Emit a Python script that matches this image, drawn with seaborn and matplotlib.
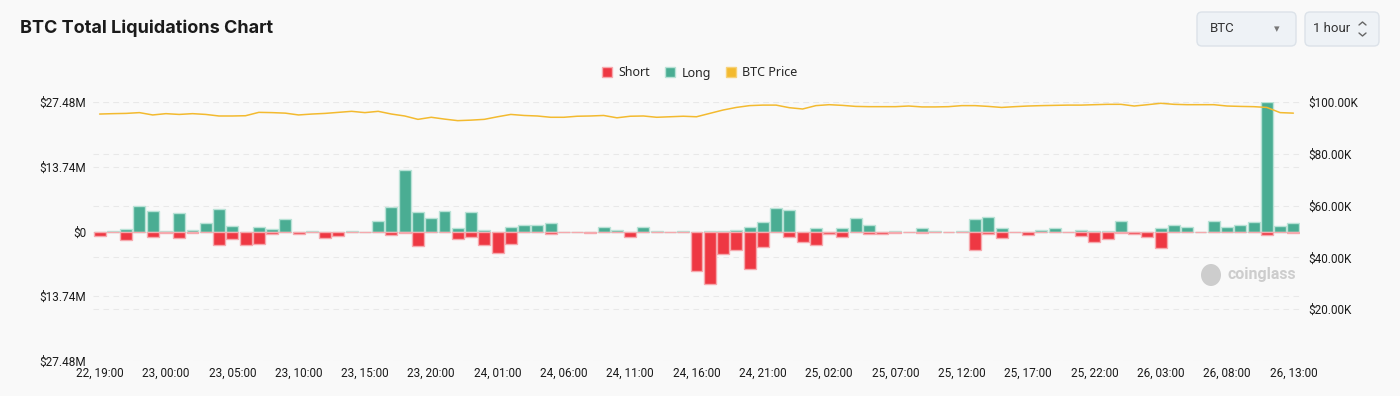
import numpy as np
import pandas as pd
import matplotlib
matplotlib.use('Agg')
import matplotlib.pyplot as plt
import matplotlib.transforms as mtransforms
from matplotlib.patches import Patch, FancyBboxPatch, Ellipse
from matplotlib.lines import Line2D
import seaborn as sns

# hourly liquidations, $M (short shown below zero)
hours = pd.date_range('2024-11-22 19:00', periods=91, freq='h').strftime('%d, %H:%M').tolist()
long_m = [0, 0.1, 0.5, 5.47, 4.4, 0.15, 3.9, 0.3, 1.78, 4.83,
          1.2, 0, 0.85, 0.43, 2.7, 0, 0.1, 0, 0, 0.2,
          0, 2.2, 5.1, 13.14, 4.05, 2.84, 4.33, 0.78, 4.12, 0.28,
          0, 1.0, 1.42, 1.28, 1.78, 0, 0, 0, 1.0, 0.35,
          0, 0.85, 0.15, 0, 0.1, 0, 0.1, 0.15, 0.3, 1.0,
          2.0, 4.97, 4.47, 0, 0.64, 0, 0.7, 2.9, 1.42, 0,
          0.1, 0, 0.7, 0.15, 0, 0.1, 2.56, 3.05, 0.78, 0,
          0, 0.35, 0.64, 0, 0.35, 0.15, 0.15, 2.27, 0, 0,
          0.78, 1.35, 1.0, 0, 2.2, 0.85, 1.42, 1.92, 27.48, 1.14,
          1.78]
short_m = [0.92, 0, 1.7, 0, 1.14, 0.35, 1.42, 0.28, 0, 2.84,
           1.5, 2.84, 2.7, 0.43, 0, 0.57, 0.2, 1.28, 0.85, 0.2,
           0.15, 0, 0.7, 0.28, 3.0, 0, 0, 1.56, 1.07, 2.9,
           4.47, 2.7, 0, 0.2, 0.43, 0.2, 0.1, 0.35, 0, 0.2,
           1.07, 0, 0, 0.2, 0, 8.3, 11.15, 4.76, 3.9, 7.9,
           3.27, 0, 1.2, 2.27, 2.9, 0.43, 1.14, 0, 0.43, 0.43,
           0.3, 0.1, 0.35, 0.2, 0.15, 0, 4.0, 0.43, 1.28, 0.2,
           0.64, 0, 0.2, 0.1, 0.92, 2.13, 1.5, 0.28, 0.5, 1.07,
           3.55, 0.2, 0, 0.2, 0, 0, 0, 0, 0.64, 0,
           0.28]
price_k = [95.35, 95.5, 95.6, 95.9, 95.0, 95.5, 95.2, 95.5, 95.2, 94.6,
           94.6, 94.7, 96.0, 95.9, 95.7, 95.0, 95.35, 95.6, 96.0, 96.4,
           95.9, 96.4, 95.35, 94.6, 93.3, 94.1, 93.4, 92.8, 93.0, 93.3,
           94.3, 95.2, 94.8, 94.6, 94.1, 94.1, 94.5, 94.6, 94.8, 93.9,
           94.5, 94.6, 94.1, 94.3, 94.5, 94.3, 95.6, 96.9, 97.9, 98.6,
           98.8, 98.8, 97.8, 97.3, 98.6, 98.96, 98.7, 98.3, 98.2, 98.2,
           98.2, 98.45, 98.1, 98.1, 98.2, 98.6, 98.6, 98.3, 97.9, 98.2,
           98.45, 98.6, 98.7, 98.8, 98.8, 98.96, 99.1, 99.1, 98.45, 98.96,
           99.5, 99.1, 98.96, 98.96, 98.96, 98.45, 98.3, 98.2, 97.9, 95.9,
           95.7]

liq_ticks = [-27.48, -13.74, 0, 13.74, 27.48]
liq_labels = ['$27.48M', '$13.74M', '$0', '$13.74M', '$27.48M']
price_ticks = [20, 40, 60, 80, 100]
price_labels = ['$20.00K', '$40.00K', '$60.00K', '$80.00K', '$100.00K']

RED, RED_EDGE = '#ee3843', '#f6a9ae'
GREEN, GREEN_EDGE = '#4aad93', '#b9e2d6'
GOLD = '#f3ba2f'
BG = '#f9f9f9'
GRID = '#e8e8e8'

sns.set_theme(style='white')
plt.rcParams['font.family'] = ['Roboto', 'DejaVu Sans']

fig = plt.figure(figsize=(14, 3.96), dpi=100, facecolor=BG)
ax = fig.add_axes([93 / 1400, 35 / 396, 1207 / 1400, 259 / 396])
ax.set_facecolor(BG)

sns.barplot(x=hours, y=long_m, color=GREEN, saturation=1, width=0.9,
            edgecolor=GREEN_EDGE, linewidth=1, errorbar=None, ax=ax, zorder=2)
sns.barplot(x=hours, y=-np.array(short_m), color=RED, saturation=1, width=0.9,
            edgecolor=RED_EDGE, linewidth=1, errorbar=None, ax=ax, zorder=2)
ax.set_xlim(-0.5, len(hours) - 0.5)
ax.set_ylim(-27.48, 27.48)
ax.set_yticks(liq_ticks, liq_labels)
ax.set_xticks(range(0, len(hours), 5), hours[::5])
ax.tick_params(axis='both', length=0, labelsize=8.5, colors='#1a1a1a')
ax.tick_params(axis='y', pad=5)
ax.tick_params(axis='x', pad=4)
ax.set_xlabel('')
ax.set_ylabel('')
ax.yaxis.grid(True, linestyle=(0, (5, 4)), color=GRID, linewidth=0.8)
ax.set_axisbelow(True)
for s in ax.spines.values():
    s.set_visible(False)

ax2 = ax.twinx()
sns.lineplot(x=np.arange(len(price_k)), y=price_k, color=GOLD, linewidth=1.1,
             legend=False, ax=ax2)
ax2.set_ylim(0, 100)
ax2.set_yticks(price_ticks, price_labels)
ax2.tick_params(axis='y', length=0, labelsize=8.5, colors='#1a1a1a', pad=6)
ax2.set_ylabel('')
for s in ax2.spines.values():
    s.set_visible(False)
# right-axis gridlines drawn on the bar axes so they stay under the bars
blend = mtransforms.blended_transform_factory(ax.transAxes, ax2.transData)
for t in price_ticks:
    ax.plot([0, 1], [t, t], transform=blend, linestyle=(0, (5, 4)),
            color=GRID, linewidth=0.8, zorder=0)

# title
fig.text(20 / 1400, 1 - 28 / 396, 'BTC Total Liquidations Chart', fontsize=13,
         fontweight='bold', color='#1b1b1b', va='center', family=['Inter', 'DejaVu Sans'])

# legend
handles = [Patch(facecolor=RED, edgecolor=RED_EDGE, label='Short'),
           Patch(facecolor=GREEN, edgecolor=GREEN_EDGE, label='Long'),
           Patch(facecolor=GOLD, edgecolor='#f7d27a', label='BTC Price')]
fig.legend(handles=handles, loc='center', bbox_to_anchor=(700 / 1400, 1 - 73 / 396),
           ncol=3, frameon=False, fontsize=9, handlelength=0.8, handleheight=0.8,
           handletextpad=0.5, columnspacing=1.2, prop={'family': 'Noto Sans', 'size': 9})

# selector boxes (pixel coords, origin bottom-left)
H = 396
ident = mtransforms.IdentityTransform()
for x0, x1 in [(1197, 1296), (1305, 1379)]:
    fig.patches.append(FancyBboxPatch((x0 + 4, H - 46 + 4), x1 - x0 - 8, 34 - 8,
                                      boxstyle='round,pad=4,rounding_size=5',
                                      facecolor='#eef2f6', edgecolor='#dce2e9',
                                      linewidth=1, transform=ident, figure=fig))
fig.text(1210 / 1400, 1 - 29 / H, 'BTC', fontsize=9.5, color='#333333', va='center')
fig.text(1277 / 1400, 1 - 29 / H, '\u25be', fontsize=8, color='#777777', va='center',
         ha='center', family='DejaVu Sans')
fig.text(1313 / 1400, 1 - 29 / H, '1 hour', fontsize=9.5, color='#333333', va='center')
for ys in [(H - 25, H - 22, H - 25), (H - 33, H - 36, H - 33)]:
    fig.lines.append(Line2D([1359, 1362.5, 1366], ys, color='#666666', linewidth=1,
                            transform=ident, figure=fig))

# watermark
fig.patches.append(Ellipse((1211, H - 275), 20, 22, facecolor='#cdcdcd',
                           edgecolor='none', transform=ident, figure=fig))
fig.text(1228 / 1400, 1 - 275 / H, 'coinglass', fontsize=11.5, fontweight='bold',
         color='#cdcdcd', va='center')

fig.savefig('out.png', dpi=100, facecolor=BG)
